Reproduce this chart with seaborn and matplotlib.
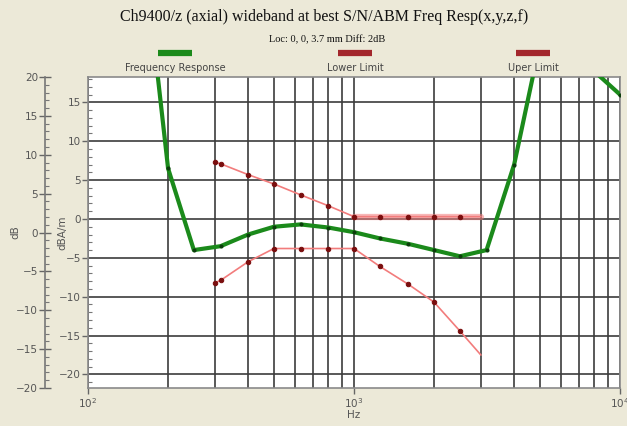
import numpy as np
import pandas as pd
import matplotlib
matplotlib.use("Agg")
import matplotlib.pyplot as plt
import seaborn as sns
from matplotlib.lines import Line2D
from matplotlib.ticker import LogLocator, MultipleLocator, NullFormatter

# ---------------- data (dBA/m) ----------------
resp_hz = [180, 200, 250, 315, 400, 500, 630, 800, 1000, 1250, 1600,
           2000, 2500, 3150, 4000, 5000, 6300, 8000, 10000]
resp_db = [20.5, 6.5, -4.0, -3.5, -2.0, -1.0, -0.7, -1.1, -1.7, -2.5, -3.2,
           -4.0, -4.8, -4.0, 7.0, 22.6, 24.0, 19.0, 16.0]

limit_hz = [300, 315, 400, 500, 630, 800, 1000, 1250, 1600, 2000, 2500, 3000]
upper_db = [7.3, 7.1, 5.7, 4.5, 3.1, 1.7, 0.3, 0.3, 0.3, 0.3, 0.3, 0.3]
lower_db = [-8.2, -7.9, -5.5, -3.8, -3.8, -3.8, -3.8, -6.1, -8.4, -10.7, -14.4, -17.5]

band_hz = [1000, 3000]
band_db = [0.3, 0.3]

legend_labels = ["Frequency Response", "Lower Limit", "Uper Limit"]
title = "Ch9400/z (axial) wideband at best S/N/ABM Freq Resp(x,y,z,f)"
subtitle = "Loc: 0, 0, 3.7 mm Diff: 2dB"

# ---------------- style ----------------
sns.set_style("white")
plt.rcParams["font.family"] = ["DejaVu Sans"]
BG = "#ECE9D8"
GRID = "#3c3c3c"
GREEN = "#1B8A1B"
PINK = "#F27C7C"
DOT = "#7A0E0E"
TXT = "#555555"

W, H = 627, 426
fig = plt.figure(figsize=(W / 100, H / 100), dpi=100, facecolor=BG)
L, R, T, B = 88, 620, 77, 388
ax = fig.add_axes([L / W, 1 - B / H, (R - L) / W, (B - T) / H])
ax.set_facecolor("white")

resp = pd.DataFrame({"Hz": resp_hz, "dB": resp_db})
lim = pd.DataFrame({"Hz": limit_hz, "upper": upper_db, "lower": lower_db})
band = pd.DataFrame({"Hz": band_hz, "dB": band_db})

# grid first
ax.set_xscale("log")
ax.set_xlim(100, 10000)
offset = 1.74
ax.set_ylim(-20 - offset, 20 - offset)
ax.xaxis.set_major_locator(LogLocator(base=10, numticks=10))
ax.xaxis.set_minor_locator(LogLocator(base=10, subs=np.arange(2, 10), numticks=20))
ax.xaxis.set_minor_formatter(NullFormatter())
ax.yaxis.set_major_locator(MultipleLocator(5))
ax.yaxis.set_minor_locator(MultipleLocator(1))
ax.grid(True, which="both", axis="x", color=GRID, lw=1.2)
ax.grid(True, which="major", axis="y", color=GRID, lw=1.2)
ax.set_axisbelow(True)

# limits
sns.lineplot(data=band, x="Hz", y="dB", ax=ax, color=PINK, lw=4.5, alpha=0.55,
             estimator=None, sort=False, legend=False, zorder=3)
sns.lineplot(data=lim, x="Hz", y="upper", ax=ax, color=PINK, lw=1.2,
             marker="o", markersize=3.2, markerfacecolor=DOT, markeredgecolor=DOT,
             markevery=slice(0, len(limit_hz) - 1),
             estimator=None, sort=False, legend=False, zorder=4)
sns.lineplot(data=lim, x="Hz", y="lower", ax=ax, color=PINK, lw=1.2,
             marker="o", markersize=3.2, markerfacecolor=DOT, markeredgecolor=DOT,
             markevery=slice(0, len(limit_hz) - 1),
             estimator=None, sort=False, legend=False, zorder=4)
# frequency response
sns.lineplot(data=resp, x="Hz", y="dB", ax=ax, color=GREEN, lw=3,
             marker="o", markersize=2.2, markerfacecolor="#0b3d0b", markeredgecolor="#0b3d0b",
             estimator=None, sort=False, legend=False, zorder=5)

ax.set_xlim(100, 10000)
ax.set_ylim(-20 - offset, 20 - offset)

# spines / ticks for the inner (dBA/m) axis
for s in ax.spines.values():
    s.set_color("#8a8a8a")
    s.set_linewidth(1.2)
ax.tick_params(axis="y", which="major", direction="out", length=4, width=1,
               color="#666666", labelsize=7.5, labelcolor=TXT, pad=1, left=True)
ax.tick_params(axis="y", which="minor", direction="in", length=3, width=0.8,
               color="#777777", left=True)
ax.tick_params(axis="x", which="major", direction="out", length=4, width=1,
               color="#666666", labelsize=7.5, labelcolor=TXT, pad=2, bottom=True)
ax.tick_params(axis="x", which="minor", length=0)
ax.set_xlabel("Hz", fontsize=7.5, color=TXT, labelpad=0)
ax.set_ylabel("dBA/m", fontsize=7.5, color=TXT)
ax.yaxis.set_label_coords((67 - L) / (R - L), 0.5)

# outer (dB) axis
ax2 = ax.twinx()
ax2.set_ylim(-20, 20)
for k in ("right", "top", "bottom"):
    ax2.spines[k].set_visible(False)
ax2.spines["left"].set_visible(True)
ax2.spines["left"].set_position(("axes", (45 - L) / (R - L)))
ax2.spines["left"].set_color("#777777")
ax2.spines["left"].set_linewidth(1.2)
ax2.yaxis.set_ticks_position("left")
ax2.yaxis.set_label_position("left")
ax2.yaxis.set_major_locator(MultipleLocator(5))
ax2.yaxis.set_minor_locator(MultipleLocator(1))
ax2.tick_params(axis="y", which="major", direction="inout", length=8, width=1,
                color="#666666", labelsize=7.5, labelcolor=TXT, pad=1)
ax2.tick_params(axis="y", which="minor", direction="in", length=3, width=0.8,
                color="#777777")
ax2.set_ylabel("dB", fontsize=7.5, color=TXT)
ax2.yaxis.set_label_coords((20 - L) / (R - L), 0.5)
ax2.grid(False)

# titles
fig.text(324 / W, 1 - 17 / H, title, ha="center", va="center",
         family=["Liberation Serif"], fontsize=11.5, color="#111111")
fig.text(327 / W, 1 - 40 / H, subtitle, ha="center", va="center",
         family=["Liberation Serif"], fontsize=7.5, color="#111111")

# legend (bars above labels)
leg_colors = [GREEN, "#A3272C", "#A3272C"]
leg_x = [175, 355, 533]
for lab, c, x in zip(legend_labels, leg_colors, leg_x):
    fig.add_artist(Line2D([(x - 17) / W, (x + 17) / W], [1 - 53 / H, 1 - 53 / H],
                          color=c, lw=4.5, solid_capstyle="butt"))
    fig.text(x / W, 1 - 68 / H, lab, ha="center", va="center",
             fontsize=7, color="#444444")

fig.savefig("out.png", dpi=100, facecolor=BG)
